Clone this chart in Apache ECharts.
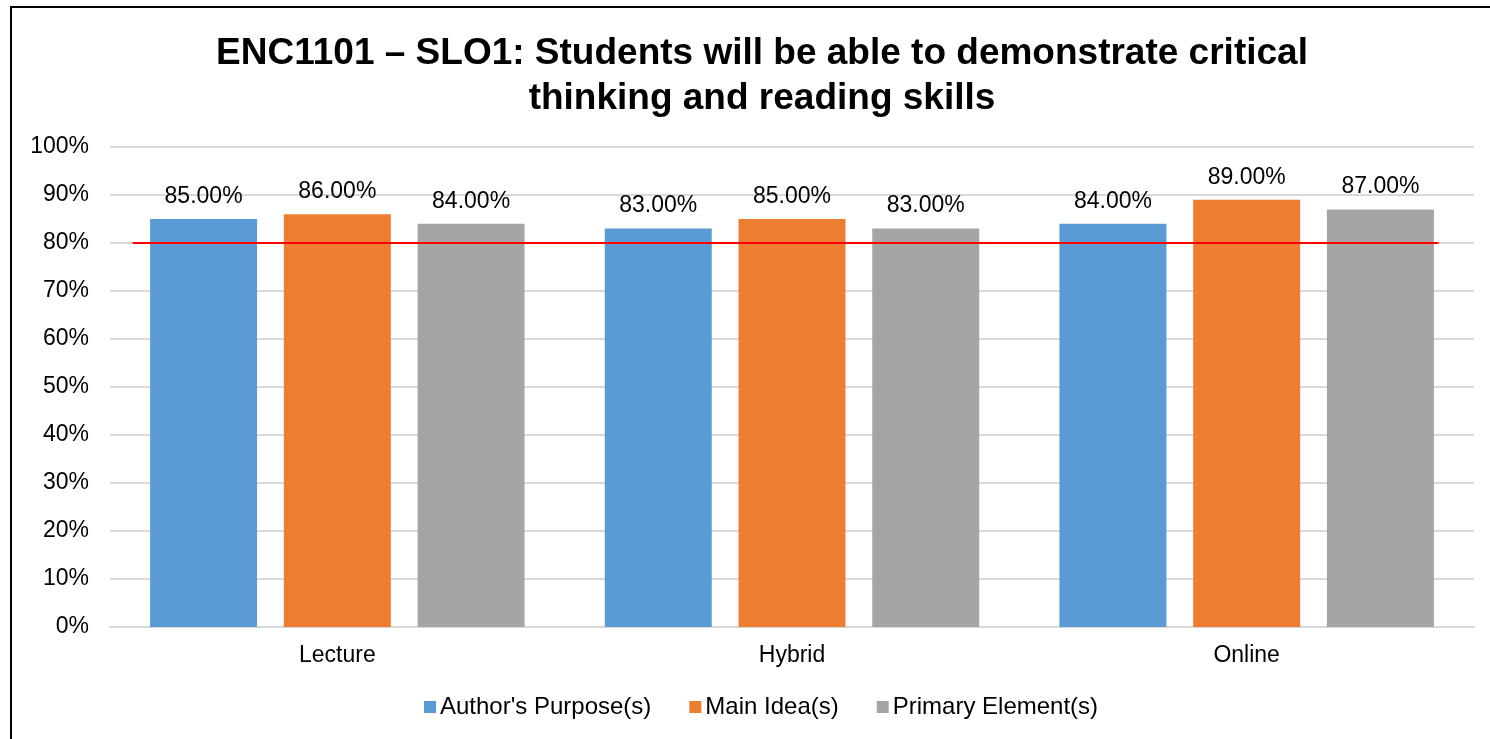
<!DOCTYPE html>
<html><head><meta charset="utf-8">
<script src="https://cdn.jsdelivr.net/npm/echarts@6/dist/echarts.min.js"></script>
<style>html,body{margin:0;padding:0;background:#fff;overflow:hidden}#c{width:1490px;height:739px}</style>
</head><body><div id="c"></div>
<script>
const titleText = "ENC1101 – SLO1: Students will be able to demonstrate critical\nthinking and reading skills";
const categories = ["Lecture", "Hybrid", "Online"];
const seriesNames = ["Author's Purpose(s)", "Main Idea(s)", "Primary Element(s)"];
const authorsPurpose = [85, 83, 84];
const mainIdea = [86, 85, 89];
const primaryElement = [84, 83, 87];
const targetValue = 80;
const targetSpan = [0.05, 2.922];
const yTicks = [0, 10, 20, 30, 40, 50, 60, 70, 80, 90, 100];
const colors = ["#5b9bd5", "#ed7d31", "#a5a5a5"];

const font = "Liberation Sans, Arial, sans-serif";
const chart = echarts.init(document.getElementById('c'));
const values = [authorsPurpose, mainIdea, primaryElement];
const barSeries = values.map((v, i) => ({
  name: seriesNames[i], type: 'bar', data: v, barWidth: 107, barGap: '25%',
  itemStyle: { color: colors[i] },
  label: { show: true, position: 'top', distance: 11, color: '#000', fontSize: 23, fontFamily: font,
    formatter: p => p.value.toFixed(2) + '%' }
}));
chart.setOption({
  animation: false,
  textStyle: { fontFamily: font },
  graphic: [{ type: 'rect', shape: { x: 11, y: 7, width: 1500, height: 800 }, style: { fill: 'none', stroke: '#000', lineWidth: 2 }, silent: true }],
  title: { text: titleText, left: 757, textAlign: 'center', top: 26,
    textStyle: { fontSize: 37, fontWeight: 'bold', color: '#000', fontFamily: font, lineHeight: 45 } },
  legend: { data: seriesNames, bottom: 15, left: 419, itemWidth: 12, itemHeight: 12, itemGap: 38, icon: 'rect',
    textStyle: { fontSize: 24, color: '#000', fontFamily: font, padding: [0, 0, 0, -1] } },
  grid: { left: 110, right: 16, top: 147, bottom: 112 },
  xAxis: [
    { type: 'category', data: categories, axisTick: { show: false },
      axisLine: { lineStyle: { color: '#d9d9d9', width: 2 } },
      axisLabel: { fontSize: 23, color: '#000', margin: 17, fontFamily: font } },
    { type: 'value', min: 0, max: 3, show: false }
  ],
  yAxis: { type: 'value', min: 0, max: 100, interval: 10,
    axisLine: { show: false }, axisTick: { show: false },
    splitLine: { lineStyle: { color: '#d9d9d9', width: 2 } },
    axisLabel: { fontSize: 23, color: '#000', margin: 21, fontFamily: font, padding: [3, 0, 0, 0],
      formatter: v => yTicks.includes(v) ? v + '%' : '' } },
  series: [...barSeries, {
    name: 'Target', type: 'line', xAxisIndex: 1, symbol: 'none', z: 5,
    data: targetSpan.map(x => [x, targetValue]),
    lineStyle: { color: '#ff0000', width: 2 }
  }]
});
</script></body></html>
